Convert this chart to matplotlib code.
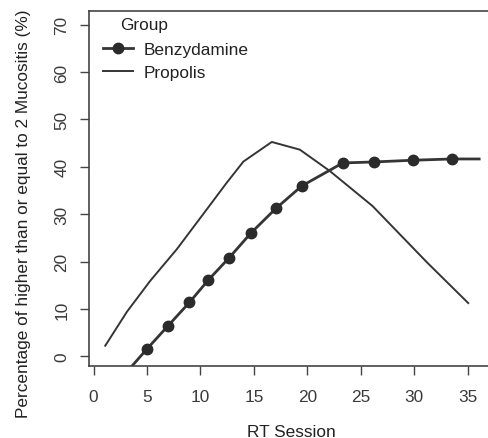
import matplotlib
matplotlib.use('Agg')
import matplotlib.pyplot as plt

plt.rcParams['font.family'] = ['Liberation Sans', 'DejaVu Sans']

# Values
benz_x = [3.3, 4.99, 6.92, 8.97, 10.75, 12.68, 14.71, 17.05, 19.48, 23.31, 26.23, 29.85, 33.50, 36.07]
benz_y = [-2.8, 1.54, 6.32, 11.38, 16.14, 20.78, 25.99, 31.19, 35.95, 40.80, 41.01, 41.37, 41.64, 41.64]
benz_marker_idx = list(range(1, 13))

prop_x = [1.09, 3.12, 5.30, 7.79, 10.60, 12.47, 14.02, 16.67, 19.3, 22.1, 26.1, 31.2, 35.05]
prop_y = [2.23, 9.40, 15.93, 22.61, 31.04, 36.67, 41.10, 45.23, 43.6, 39.1, 31.7, 19.8, 11.23]

x_ticks = [0, 5, 10, 15, 20, 25, 30, 35]
y_ticks = [0, 10, 20, 30, 40, 50, 60, 70]

line_col = '#353535'
fs = 12.4

fig = plt.figure(figsize=(4.88, 4.39), dpi=100)
ax = fig.add_axes([0.183, 0.1647, 0.828, 0.8073])

ax.plot(benz_x, benz_y, color=line_col, lw=2.0, marker='o', markersize=7.5,
        markevery=benz_marker_idx, markerfacecolor='#2b2b2b', markeredgecolor='#2b2b2b',
        label='Benzydamine')
ax.plot(prop_x, prop_y, color=line_col, lw=1.4, label='Propolis')

ax.set_xlim(-0.4, 37.4)
ax.set_ylim(-1.98, 72.8)
ax.set_xticks(x_ticks)
ax.set_yticks(y_ticks)
ax.tick_params(axis='both', direction='out', length=6.5, width=1, color='#444444',
               labelsize=fs, labelcolor='#3a3a3a')
ax.tick_params(axis='x', pad=10)
ax.tick_params(axis='y', pad=8)
for lab in ax.get_yticklabels():
    lab.set_rotation(90)
    lab.set_va('center')

for s in ax.spines.values():
    s.set_color('#444444')
    s.set_linewidth(1.2)

ax.set_xlabel('RT Session', fontsize=fs, color='#222222', labelpad=15)
ax.set_ylabel('Percentage of higher than or equal to 2 Mucositis (%)', fontsize=12.4,
              color='#222222')
ax.yaxis.set_label_coords(-0.145, 0.431)

ax.text(0.076, 0.962, 'Group', transform=ax.transAxes, fontsize=fs,
        color='#222222', ha='left', va='center')
ax.legend(loc='upper left', bbox_to_anchor=(0.033, 0.913), frameon=False,
          fontsize=fs, handlelength=1.75, handletextpad=0.65, labelspacing=0.45,
          borderaxespad=0, borderpad=0, labelcolor='#222222')

fig.savefig('out.png', dpi=100)
